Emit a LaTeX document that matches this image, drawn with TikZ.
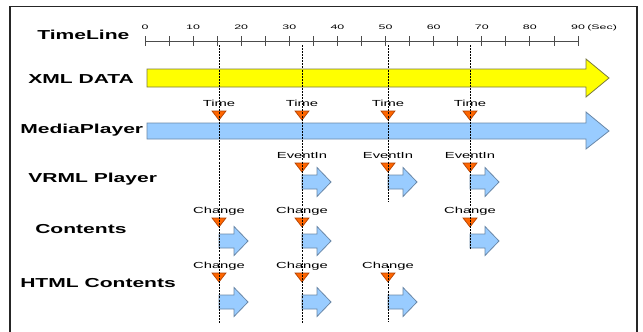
\documentclass[tikz,border=0pt]{standalone}
\usepackage{fontspec}
\setmainfont{Liberation Sans}
\newfontfamily\biglblfont[FakeStretch=1.62]{Liberation Sans}
\newfontfamily\smalllblfont[FakeStretch=1.68]{Liberation Sans}
\newfontfamily\ticklblfont[FakeStretch=1.9]{Liberation Sans}
\definecolor{xmly}{HTML}{FFFF00}
\definecolor{xmlyd}{HTML}{7A7A40}
\definecolor{mpb}{HTML}{99CCFF}
\definecolor{mpbd}{HTML}{6A88A8}
\definecolor{mko}{HTML}{FF6600}
\definecolor{mkod}{HTML}{B04000}
\tikzset{
  rowlbl/.style={font=\biglblfont\bfseries\fontsize{9.75pt}{11pt}\selectfont, inner sep=0pt, anchor=base west},
  smalllbl/.style={font=\smalllblfont\fontsize{6.6pt}{8pt}\selectfont, inner sep=0pt, anchor=base},
  ticklbl/.style={font=\ticklblfont\fontsize{4.9pt}{6pt}\selectfont, inner sep=0pt, anchor=base},
  axisline/.style={draw=black!70, line width=0.6pt},
  yarrow/.style={fill=xmly, draw=xmlyd, line width=0.6pt},
  barrow/.style={fill=mpb, draw=mpbd, line width=0.6pt},
  mktri/.style={fill=mko, draw=mkod, line width=0.5pt},
  guide/.style={draw=black, line width=0.6pt, dash pattern=on 1.5pt off 0.8pt},
  frameline/.style={draw=black!85, line width=1.1pt}
}
\newcommand\smallarr[2]{\draw[barrow, shift={(#1,#2)}] (0,-7) -- (15,-7) -- (15,-14.5) -- (29,0) -- (15,14.5) -- (15,7) -- (0,7) -- cycle;}
\newcommand\mkr[4]{\draw[mktri, shift={(#1,#2)}] (-7,0) -- (7,0) -- (0,9) -- cycle;
  \node[smalllbl] (#4) at (#1,#2-4.5) {#3};}
\begin{document}
\begin{tikzpicture}[x=0.75pt,y=-0.75pt]
\useasboundingbox (0,0) rectangle (643,332);
\draw[frameline] (10,332) -- (10,6.5) -- (637,6.5) -- (637,332);
% row labels
\node[rowlbl] (ltime) at (37,40) {TimeLine};
\node[rowlbl] (lxml) at (28,83.3) {XML DATA};
\node[rowlbl] (lmedia) at (20,133) {MediaPlayer};
\node[rowlbl] (lvrml) at (28,182) {VRML Player};
\node[rowlbl] (lcont) at (35,233) {Contents};
\node[rowlbl] (lhtml) at (20,287) {HTML Contents};
% time axis
\draw[axisline] (145,41) -- (578,41);
\foreach \i in {0,...,18} \draw[axisline] ({145+\i*433/18},36) -- ({145+\i*433/18},46);
\foreach \i in {0,...,9} \node[ticklbl] (t\i) at ({145+\i*433/9},30) {\the\numexpr\i*10\relax};
\node[ticklbl, anchor=base west] (sec) at (587,30) {(Sec)};
% big arrows
\draw[yarrow] (147,69) -- (586,69) -- (586,59) -- (609,78) -- (586,97) -- (586,87) -- (147,87) -- cycle;
\draw[barrow] (147,123) -- (586,123) -- (586,112) -- (609,131) -- (586,149) -- (586,139) -- (147,139) -- cycle;
% markers
\mkr{219}{111}{Time}{tm1}
\mkr{302}{111}{Time}{tm2}
\mkr{388}{111}{Time}{tm3}
\mkr{470}{111}{Time}{tm4}
\mkr{302}{163}{EventIn}{ev2}
\mkr{388}{163}{EventIn}{ev3}
\mkr{470}{163}{EventIn}{ev4}
\mkr{219}{218}{Change}{cc1}
\mkr{302}{218}{Change}{cc2}
\mkr{470}{218}{Change}{cc4}
\mkr{219}{273}{Change}{hc1}
\mkr{302}{273}{Change}{hc2}
\mkr{388}{273}{Change}{hc3}
% small arrows
\smallarr{302}{182}
\smallarr{388}{182}
\smallarr{470}{182}
\smallarr{219}{241}
\smallarr{302}{241}
\smallarr{470}{241}
\smallarr{219}{302}
\smallarr{302}{302}
\smallarr{388}{302}
% guide lines
\draw[guide] (219,45) -- (219,324);
\draw[guide] (302,45) -- (302,324);
\draw[guide] (388,45) -- (388,202);
\draw[guide] (388,266) -- (388,322);
\draw[guide] (470,45) -- (470,250);
\end{tikzpicture}
\end{document}
